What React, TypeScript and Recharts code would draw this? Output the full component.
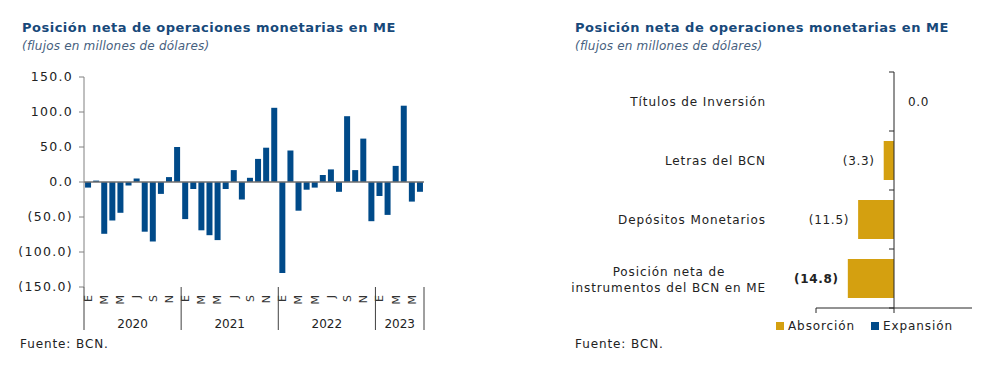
import { BarChart, Bar, XAxis, YAxis, ReferenceLine, LabelList } from "recharts"

const monthLetters = ["E", "F", "M", "A", "M", "J", "J", "A", "S", "O", "N", "D"]
const years = ["2020", "2021", "2022", "2023"]
const flows2020 = [-8, 2, -74, -55, -44, -5, 5, -71, -85, -17, 7, 50]
const flows2021 = [-53, -10, -69, -76, -83, -10, 17, -25, 6, 33, 49, 106]
const flows2022 = [-130, 45, -41, -11, -8, 10, 18, -14, 94, 17, 62, -56]
const flows2023 = [-20, -47, 23, 109, -28, -14]
const yTicks = [150, 100, 50, 0, -50, -100, -150]

const instrumentLines = [
  ["Títulos de Inversión"],
  ["Letras del BCN"],
  ["Depósitos Monetarios"],
  ["Posición neta de", "instrumentos del BCN en ME"],
]
const absorption = [0, -3.3, -11.5, -14.8]

const BLUE = "#004a89"
const GOLD = "#d4a010"
const TITLE = "#17497a"
const SUB = "#46607e"
const FONT = "'DejaVu Sans', Verdana, sans-serif"

const flowsByYear = [flows2020, flows2021, flows2022, flows2023]
const monthly = flowsByYear.flatMap((vals, yi) =>
  vals.map((v, m) => ({ key: `${years[yi]}-${m + 1}`, year: years[yi], m, v, count: vals.length }))
)

const instrumentData = instrumentLines.map((lines, i) => ({
  name: lines.join(" "),
  lines,
  absorcion: absorption[i],
}))

// left chart geometry
const L_W = 440
const L_H = 290
const L_YAXIS = 84
const L_RIGHT = 16
const L_PLOT_W = L_W - L_YAXIS - L_RIGHT

// right chart geometry
const R_W = 440
const R_H = 290
const R_YAXIS = 256
const R_RIGHT = 28
const R_TOP = 12
const R_BOTTOM = 42
const R_PLOT_W = R_W - R_YAXIS - R_RIGHT
const R_BAND = (R_H - R_TOP - R_BOTTOM) / instrumentData.length
const R_ZERO_X = R_YAXIS + R_PLOT_W / 2

const fmt = (v: number) => (v < 0 ? `(${Math.abs(v).toFixed(1)})` : v.toFixed(1))

const MonthTick = (props: any) => {
  const { x, y } = props
  const index = props.index ?? props.payload?.index
  const d = monthly[index]
  if (!d) return null
  const step = L_PLOT_W / monthly.length
  return (
    <g>
      {d.m % 2 === 0 && (
        <text
          x={x}
          y={y}
          dy="0.35em"
          transform={`rotate(-90 ${x} ${y})`}
          textAnchor="end"
          fontSize={11}
          fontFamily={FONT}
          fill="#333"
        >
          {monthLetters[d.m]}
        </text>
      )}
      {d.m === 0 && (
        <>
          <line x1={x - step / 2} x2={x - step / 2} y1={y - 8} y2={y + 35} stroke="#404040" strokeWidth={1} />
          <text
            x={x - step / 2 + (d.count * step) / 2}
            y={y + 33}
            textAnchor="middle"
            fontSize={12}
            fontFamily={FONT}
            fill="#222"
          >
            {d.year}
          </text>
        </>
      )}
      {index === monthly.length - 1 && (
        <line x1={x + step / 2} x2={x + step / 2} y1={y - 8} y2={y + 35} stroke="#404040" strokeWidth={1} />
      )}
    </g>
  )
}

const labelStyle = { fontSize: 12, fontFamily: FONT, fill: "#222", letterSpacing: 0.7 }

const InstrumentTick = (props: any) => {
  const { x, y } = props
  const index = props.index ?? props.payload?.index
  const d = instrumentData[index]
  if (!d) return null
  const common = { fontSize: 12, fontFamily: FONT, fill: "#222", letterSpacing: 0.9 }
  return (
    <g>
      {d.lines.length === 1 ? (
        <text x={x} y={y} dy="0.35em" textAnchor="end" {...common}>
          {d.lines[0]}
        </text>
      ) : (
        <>
          <text x={x - 97} y={y - 7} dy="0.35em" textAnchor="middle" {...common}>
            {d.lines[0]}
          </text>
          <text x={x} y={y + 9} dy="0.35em" textAnchor="end" {...common}>
            {d.lines[1]}
          </text>
        </>
      )}
      {/* zero-width bars get no LabelList entry, so their value is written here */}
      {d.absorcion === 0 && (
        <text x={R_ZERO_X + 14} y={y} dy="0.35em" textAnchor="start" {...labelStyle}>
          {fmt(d.absorcion)}
        </text>
      )}
      {index === 0 && (
        <line x1={R_ZERO_X - 5} x2={R_ZERO_X} y1={y - R_BAND / 2} y2={y - R_BAND / 2} stroke="#262626" />
      )}
      <line x1={R_ZERO_X - 5} x2={R_ZERO_X} y1={y + R_BAND / 2} y2={y + R_BAND / 2} stroke="#262626" />
    </g>
  )
}

const ValueLabel = (props: any) => {
  const { x, y, width, height } = props
  const value = Number(props.value)
  if (value === 0) return null
  const left = Math.min(x, x + width)
  const cy = y + height / 2
  const bold = value === absorption[absorption.length - 1]
  return (
    <text
      x={left - 9}
      y={cy}
      dy="0.35em"
      textAnchor="end"
      fontWeight={bold ? "bold" : "normal"}
      {...labelStyle}
    >
      {fmt(value)}
    </text>
  )
}

const Heading = ({ left }: { left: number }) => (
  <div style={{ position: "absolute", left, top: 20, fontFamily: FONT }}>
    <div style={{ fontSize: 13, fontWeight: "bold", color: TITLE, letterSpacing: 0.5 }}>
      Posición neta de operaciones monetarias en ME
    </div>
    <div style={{ fontSize: 12, fontStyle: "italic", color: SUB, marginTop: 4, letterSpacing: 0.2 }}>
      (flujos en millones de dólares)
    </div>
  </div>
)

const Source = ({ left }: { left: number }) => (
  <div style={{ position: "absolute", left, top: 337, fontFamily: FONT, fontSize: 12, letterSpacing: 0.9, color: "#222" }}>
    Fuente: BCN.
  </div>
)

const App = () => {
  return (
    <div style={{ position: "absolute", left: 0, top: 0, width: 1002, height: 386, background: "#fff" }}>
      <Heading left={22} />
      <Heading left={575} />

      <div style={{ position: "absolute", left: 0, top: 60 }}>
        <BarChart
          width={L_W}
          height={L_H}
          data={monthly}
          margin={{ top: 17, right: L_RIGHT, left: 0, bottom: 13 }}
          barCategoryGap="13%"
        >
          <XAxis
            dataKey="key"
            interval={0}
            axisLine={false}
            tickLine={false}
            tickSize={0}
            tickMargin={8}
            height={50}
            tick={<MonthTick />}
          />
          <YAxis
            width={L_YAXIS}
            domain={[-150, 150]}
            ticks={yTicks}
            tickFormatter={fmt}
            stroke="#808080"
            tickSize={5}
            tickMargin={6}
            tick={{ fontSize: 12.5, fontFamily: FONT, fill: "#222", letterSpacing: 1.3 }}
          />
          <Bar dataKey="v" fill={BLUE} isAnimationActive={false} />
          <ReferenceLine y={0} stroke="#6f6f6f" strokeWidth={1.5} />
        </BarChart>
      </div>

      <div style={{ position: "absolute", left: 560, top: 60 }}>
        <BarChart
          width={R_W}
          height={R_H}
          data={instrumentData}
          layout="vertical"
          margin={{ top: R_TOP, right: R_RIGHT, left: 0, bottom: R_BOTTOM - 5 }}
        >
          <XAxis
            type="number"
            domain={[-25, 25]}
            ticks={[-25, 0]}
            tickFormatter={() => ""}
            stroke="#262626"
            tickSize={5}
            height={5}
          />
          <YAxis
            type="category"
            dataKey="name"
            width={R_YAXIS}
            axisLine={false}
            tickLine={false}
            tickSize={0}
            tickMargin={50}
            interval={0}
            tick={<InstrumentTick />}
          />
          <Bar dataKey="absorcion" fill={GOLD} barSize={39} isAnimationActive={false}>
            <LabelList dataKey="absorcion" content={<ValueLabel />} />
          </Bar>
          <ReferenceLine x={0} stroke="#262626" />
        </BarChart>
      </div>

      <div
        style={{
          position: "absolute",
          left: 776,
          top: 319,
          display: "flex",
          alignItems: "center",
          fontFamily: FONT,
          fontSize: 12,
          letterSpacing: 0.9,
          color: "#222",
        }}
      >
        <span style={{ width: 8, height: 8, background: GOLD, display: "inline-block", marginRight: 4 }} />
        <span style={{ marginRight: 16 }}>Absorción</span>
        <span style={{ width: 8, height: 8, background: BLUE, display: "inline-block", marginRight: 4 }} />
        <span>Expansión</span>
      </div>

      <Source left={20} />
      <Source left={575} />
    </div>
  )
}

export default App
